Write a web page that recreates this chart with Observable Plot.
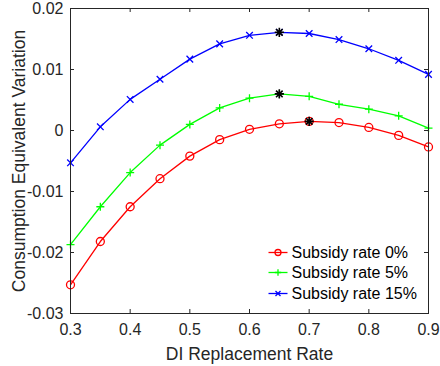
<!DOCTYPE html>
<html><head><meta charset="utf-8">
<script src="https://cdn.jsdelivr.net/npm/d3@7"></script>
<script src="https://cdn.jsdelivr.net/npm/@observablehq/plot@0.6"></script>
<style>body{margin:0;background:#fff}</style>
</head><body><div id="chart"></div>
<script>
const replacementRates = [0.3, 0.35, 0.4, 0.45, 0.5, 0.55, 0.6, 0.65, 0.7, 0.75, 0.8, 0.85, 0.9];
const subsidy0  = [-0.0253, -0.0182, -0.0125, -0.0079, -0.0042, -0.0015, 0.0002, 0.0011, 0.0015, 0.0013, 0.0005, -0.0008, -0.0027];
const subsidy5  = [-0.0187, -0.0125, -0.0069, -0.0024, 0.0010, 0.0037, 0.0053, 0.0060, 0.0056, 0.0043, 0.0035, 0.0024, 0.0004];
const subsidy15 = [-0.0053, 0.0006, 0.0051, 0.0084, 0.0117, 0.0142, 0.0156, 0.0161, 0.0159, 0.0149, 0.0134, 0.0115, 0.0092];
const seriesNames = ["Subsidy rate 0%", "Subsidy rate 5%", "Subsidy rate 15%"];
const seriesColors = ["#ff0000", "#00ff00", "#0000ff"];
const seriesSymbols = ["circle", "plus", "times"];
const optimumRates = [0.7, 0.65, 0.65];
const xTicks = [0.3, 0.4, 0.5, 0.6, 0.7, 0.8, 0.9];
const xTickLabels = ["0.3", "0.4", "0.5", "0.6", "0.7", "0.8", "0.9"];
const yTicks = [0.02, 0.01, 0, -0.01, -0.02, -0.03];
const yTickLabels = ["0.02", "0.01", "0", "-0.01", "-0.02", "-0.03"];
const xLabel = "DI Replacement Rate";
const yLabel = "Consumption Equivalent Variation";

const values = [subsidy0, subsidy5, subsidy15];
const rows = values.flatMap((vals, s) => vals.map((v, i) => ({series: s, x: replacementRates[i], y: v})));
const optimum = rows.filter(d => Math.abs(d.x - optimumRates[d.series]) < 1e-9);

const W = 440, H = 366, mL = 70, mR = 12, mT = 8, mB = 53;
const plotH = H - mT - mB, plotW = W - mL - mR, tick = 4;
const font = "'Liberation Sans', Arial, Helvetica, sans-serif";
const axisColor = "#262626";

const symR = {circle: 4, plus: 2.7, times: 3.1};
const legR = {circle: 3, plus: 2.2, times: 2.4};
const star8 = {draw(ctx) { const r = 4.6, q = 3.3;
  ctx.moveTo(-r, 0); ctx.lineTo(r, 0); ctx.moveTo(0, -r); ctx.lineTo(0, r);
  ctx.moveTo(-q, -q); ctx.lineTo(q, q); ctx.moveTo(-q, q); ctx.lineTo(q, -q); }};
const legLine = {draw(ctx) { ctx.moveTo(-9.5, 0); ctx.lineTo(9.5, 0); }};

const marks = [];
seriesNames.forEach((name, s) => {
  const d = rows.filter(r => r.series === s);
  marks.push(Plot.line(d, {x: "x", y: "y", stroke: seriesColors[s], strokeWidth: 1.3}));
  marks.push(Plot.dot(d, {x: "x", y: "y", symbol: seriesSymbols[s], r: symR[seriesSymbols[s]], stroke: seriesColors[s], fill: "none", strokeWidth: 1.3}));
});
marks.push(Plot.dot(optimum, {x: "x", y: "y", symbol: star8, r: 4, stroke: "black", fill: "none", strokeWidth: 1.6}));
marks.push(Plot.frame({stroke: axisColor, strokeWidth: 1}));
marks.push(Plot.tickX(xTicks, {x: d => d, stroke: axisColor, insetTop: plotH - tick}));
marks.push(Plot.tickX(xTicks, {x: d => d, stroke: axisColor, insetBottom: plotH - tick}));
marks.push(Plot.tickY(yTicks, {y: d => d, stroke: axisColor, insetRight: plotW - tick}));
marks.push(Plot.tickY(yTicks, {y: d => d, stroke: axisColor, insetLeft: plotW - tick}));
marks.push(Plot.axisX(xTicks, {tickSize: 0, tickPadding: 10, tickFormat: (d, i) => xTickLabels[i], fontSize: 16, fill: axisColor, label: null}));
marks.push(Plot.axisY(yTicks, {tickSize: 0, tickPadding: 7, tickFormat: (d, i) => yTickLabels[i], fontSize: 16, fill: axisColor, label: null}));
marks.push(Plot.text([xLabel], {frameAnchor: "bottom", dy: 46, lineAnchor: "bottom", textAnchor: "middle", fontSize: 17.5, fill: axisColor}));
marks.push(Plot.text([yLabel], {frameAnchor: "left", dx: -46, rotate: -90, lineAnchor: "bottom", textAnchor: "middle", fontSize: 17.5, fill: axisColor}));
const legDy = [244, 264, 285];
seriesNames.forEach((name, s) => {
  marks.push(Plot.dot([name], {frameAnchor: "top-left", dx: 207.5, dy: legDy[s], symbol: legLine, r: 3, stroke: seriesColors[s], fill: "none", strokeWidth: 1.3}));
  marks.push(Plot.dot([name], {frameAnchor: "top-left", dx: 207.5, dy: legDy[s], symbol: seriesSymbols[s], r: legR[seriesSymbols[s]], stroke: seriesColors[s], fill: "none", strokeWidth: 1.3}));
  marks.push(Plot.text([name], {frameAnchor: "top-left", dx: 221, dy: legDy[s], textAnchor: "start", lineAnchor: "middle", fontSize: 16, fill: "#000"}));
});

const chart = Plot.plot({
  width: W, height: H,
  marginLeft: mL, marginRight: mR, marginTop: mT, marginBottom: mB,
  style: {fontFamily: font, background: "#fff", overflow: "visible"},
  x: {domain: [0.3, 0.9], axis: null},
  y: {domain: [-0.03, 0.02], axis: null},
  marks
});
document.getElementById("chart").append(chart);
</script>
</body></html>
